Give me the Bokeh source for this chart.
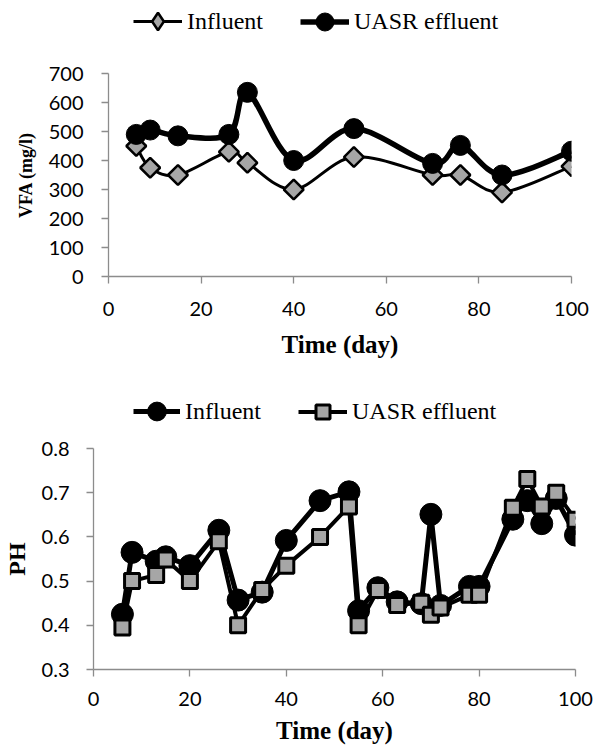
import numpy as np
from bokeh.plotting import figure
from bokeh.layouts import column
from bokeh.models import Range1d, FixedTicker, Legend, LegendItem
from bokeh.embed import file_html
from bokeh.resources import INLINE

# ---------------- data ----------------
day_vfa = [6, 9, 15, 26, 30, 40, 53, 70, 76, 85, 100]
influent_vfa = [450, 375, 350, 430, 392, 300, 412, 350, 350, 290, 380]
uasr_vfa = [490, 505, 485, 490, 635, 400, 510, 390, 452, 350, 432]

day_ph = [6, 8, 13, 15, 20, 26, 30, 35, 40, 47, 53, 55, 59, 63, 68, 70, 72, 78, 80, 87, 90, 93, 96, 100]
influent_ph = [0.425, 0.565, 0.545, 0.555, 0.535, 0.615, 0.457, 0.475, 0.592, 0.682, 0.702, 0.433,
               0.485, 0.453, 0.449, 0.651, 0.445, 0.488, 0.488, 0.640, 0.682, 0.630, 0.687, 0.604]
uasr_ph = [0.395, 0.500, 0.514, 0.549, 0.500, 0.590, 0.400, 0.480, 0.535, 0.600, 0.669, 0.400,
           0.480, 0.446, 0.451, 0.424, 0.440, 0.469, 0.469, 0.666, 0.731, 0.669, 0.700, 0.639]

x_ticks = [0, 20, 40, 60, 80, 100]
vfa_ticks = [0, 100, 200, 300, 400, 500, 600, 700]
ph_ticks = [0.3, 0.4, 0.5, 0.6, 0.7, 0.8]

GRAY_FILL = "#a6a6a6"
AXIS_GRAY = "#8c8c8c"
TICK_FONT = "Lato"
SERIF = "Liberation Serif"
W = 595


def smooth_segments(xs, ys):
    """Bezier control points for a smoothed (Excel-like) line through the points."""
    x = np.asarray(xs, float)
    y = np.asarray(ys, float)
    xp = np.concatenate([[x[0]], x, [x[-1]]])
    yp = np.concatenate([[y[0]], y, [y[-1]]])
    d = dict(x0=[], y0=[], x1=[], y1=[], cx0=[], cy0=[], cx1=[], cy1=[])
    for i in range(len(x) - 1):
        p0x, p0y = xp[i], yp[i]
        p1x, p1y = xp[i + 1], yp[i + 1]
        p2x, p2y = xp[i + 2], yp[i + 2]
        p3x, p3y = xp[i + 3], yp[i + 3]
        d["x0"].append(p1x); d["y0"].append(p1y)
        d["x1"].append(p2x); d["y1"].append(p2y)
        d["cx0"].append(p1x + (p2x - p0x) / 6.0); d["cy0"].append(p1y + (p2y - p0y) / 6.0)
        d["cx1"].append(p2x - (p3x - p1x) / 6.0); d["cy1"].append(p2y - (p3y - p1y) / 6.0)
    return d


def style_axes(p, ylab_size, xlab_standoff, xtitle_standoff, ylab_standoff, ytitle_standoff):
    for ax in (p.xaxis, p.yaxis):
        ax.axis_line_color = AXIS_GRAY
        ax.axis_line_width = 1.3
        ax.major_tick_line_color = AXIS_GRAY
        ax.major_tick_line_width = 1.3
        ax.major_tick_out = 7
        ax.major_tick_in = 0
        ax.minor_tick_line_color = None
        ax.major_label_text_font = TICK_FONT
        ax.major_label_text_font_size = "20px"
        ax.major_label_text_color = "#000000"
        ax.axis_label_text_font = SERIF
        ax.axis_label_text_font_style = "bold"
        ax.axis_label_text_color = "#000000"
    p.xaxis.axis_label_text_font_size = "25px"
    p.yaxis.axis_label_text_font_size = ylab_size
    p.xaxis.major_label_standoff = xlab_standoff
    p.xaxis.axis_label_standoff = xtitle_standoff
    p.yaxis.major_label_standoff = ylab_standoff
    p.yaxis.axis_label_standoff = ytitle_standoff
    p.xgrid.visible = False
    p.ygrid.visible = False
    p.outline_line_color = None
    p.frame_align = False


def legend_strip(height):
    # a bare strip that only hosts the legend; its 0..1 ranges keep the
    # sample glyphs (first data point of each series) outside the frame
    f = figure(width=W, height=height, output_backend="svg", toolbar_location=None,
               x_range=Range1d(0, 1), y_range=Range1d(0, 1),
               x_axis_type=None, y_axis_type=None,
               min_border_left=0, min_border_right=0, min_border_top=0, min_border_bottom=0)
    f.xgrid.visible = False
    f.ygrid.visible = False
    f.outline_line_color = None
    f.frame_align = False
    return f


def make_legend(label, renderers, h, gw, vx, vy):
    return Legend(items=[LegendItem(label=label, renderers=renderers)],
                  location=(vx, vy), orientation="horizontal",
                  glyph_width=gw, glyph_height=h, label_height=h, label_standoff=5,
                  padding=0, margin=0, border_line_color=None, background_fill_alpha=0,
                  label_text_font=SERIF, label_text_font_size="24px", label_text_color="#000000")


# ---------------- top legend strip ----------------
L1_H, L1_C = 45, 21
leg1 = legend_strip(L1_H)
k_l_inf1 = leg1.line(day_vfa[:1], influent_vfa[:1], line_color="black", line_width=3)
k_m_inf1 = leg1.scatter(day_vfa[:1], influent_vfa[:1], marker="diamond",
                        fill_color=GRAY_FILL, line_color="black", line_width=2.5)
k_l_uasr1 = leg1.line(day_vfa[:1], uasr_vfa[:1], line_color="black", line_width=5.5)
k_m_uasr1 = leg1.scatter(day_vfa[:1], uasr_vfa[:1], marker="circle",
                         fill_color="black", line_color="black", line_width=1)
leg1.add_layout(make_legend("Influent", [k_l_inf1, k_m_inf1], 44, 49, 133, L1_H - L1_C - 22), "center")
leg1.add_layout(make_legend("UASR effluent", [k_l_uasr1, k_m_uasr1], 45, 49, 300, L1_H - L1_C - 22.5), "center")

# ---------------- top chart: VFA ----------------
p1 = figure(width=W, height=322, output_backend="svg", toolbar_location=None,
            x_range=Range1d(0, 100), y_range=Range1d(0, 700),
            x_axis_label="Time (day)", y_axis_label="VFA (mg/l)",
            min_border_left=108, min_border_right=24, min_border_top=28, min_border_bottom=91)
p1.xaxis.ticker = FixedTicker(ticks=x_ticks)
p1.yaxis.ticker = FixedTicker(ticks=vfa_ticks)
style_axes(p1, "18px", 18, 12, 18, 10)

seg_inf = smooth_segments(day_vfa, influent_vfa)
seg_uasr = smooth_segments(day_vfa, uasr_vfa)

p1.bezier(x0="x0", y0="y0", x1="x1", y1="y1", cx0="cx0", cy0="cy0", cx1="cx1", cy1="cy1",
          source=seg_inf, line_color="black", line_width=3)
p1.scatter(day_vfa, influent_vfa, marker="square", size=14, angle=np.pi / 4,
           fill_color=GRAY_FILL, line_color="black", line_width=2.5)
p1.bezier(x0="x0", y0="y0", x1="x1", y1="y1", cx0="cx0", cy0="cy0", cx1="cx1", cy1="cy1",
          source=seg_uasr, line_color="black", line_width=5.5)
p1.scatter(day_vfa, uasr_vfa, marker="circle", size=20,
           fill_color="black", line_color="black", line_width=1)

# ---------------- bottom legend strip ----------------
L2_H, L2_C = 70, 44
leg2 = legend_strip(L2_H)
k_l_inf2 = leg2.line(day_ph[:1], influent_ph[:1], line_color="black", line_width=5)
k_m_inf2 = leg2.scatter(day_ph[:1], influent_ph[:1], marker="circle",
                        fill_color="black", line_color="black", line_width=1)
k_l_uasr2 = leg2.line(day_ph[:1], uasr_ph[:1], line_color="black", line_width=4)
k_m_uasr2 = leg2.scatter(day_ph[:1], uasr_ph[:1], marker="square",
                         fill_color=GRAY_FILL, line_color="black", line_width=3)
leg2.add_layout(make_legend("Influent", [k_l_inf2, k_m_inf2], 48, 47, 133, L2_H - L2_C - 24), "center")
leg2.add_layout(make_legend("UASR effluent", [k_l_uasr2, k_m_uasr2], 35, 49, 298, L2_H - L2_C - 17.5), "center")

# ---------------- bottom chart: PH ----------------
p2 = figure(width=W, height=314, output_backend="svg", toolbar_location=None,
            x_range=Range1d(0, 100), y_range=Range1d(0.3, 0.8),
            x_axis_label="Time (day)", y_axis_label="PH",
            min_border_left=92, min_border_right=20, min_border_top=11, min_border_bottom=82)
p2.xaxis.ticker = FixedTicker(ticks=x_ticks)
p2.yaxis.ticker = FixedTicker(ticks=ph_ticks)
style_axes(p2, "24px", 15, 8, 17, 9)

p2.line(day_ph, influent_ph, line_color="black", line_width=5)
p2.scatter(day_ph, influent_ph, marker="circle", size=22,
           fill_color="black", line_color="black", line_width=1)
p2.line(day_ph, uasr_ph, line_color="black", line_width=4)
p2.scatter(day_ph, uasr_ph, marker="square", size=15,
           fill_color=GRAY_FILL, line_color="black", line_width=3)

layout = column(leg1, p1, leg2, p2, spacing=0)
open("out.html", "w").write(file_html(layout, INLINE))
